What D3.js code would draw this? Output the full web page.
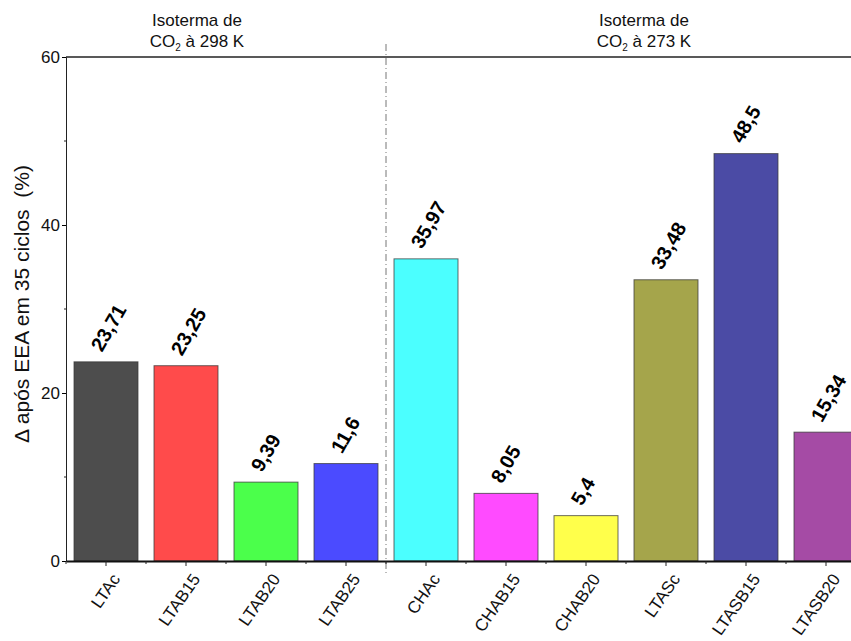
<!DOCTYPE html>
<html><head><meta charset="utf-8">
<script src="https://cdn.jsdelivr.net/npm/d3@7"></script>
<style>html,body{margin:0;padding:0;background:#fff}svg{display:block;font-family:"Liberation Sans",Arial,sans-serif}</style>
</head><body>
<svg id="c" width="851" height="641"></svg>
<script>
const categories = ["LTAc","LTAB15","LTAB20","LTAB25","CHAc","CHAB15","CHAB20","LTASc","LTASB15","LTASB20"];
const values = [23.71,23.25,9.39,11.6,35.97,8.05,5.4,33.48,48.5,15.34];
const valueLabels = ["23,71","23,25","9,39","11,6","35,97","8,05","5,4","33,48","48,5","15,34"];
const colors = ["#4d4d4d","#ff4b4b","#4bff4b","#4b4bff","#4bffff","#ff4bff","#ffff4b","#a5a54b","#4b4ba5","#a54ba5"];
const yMajor = [0,20,40,60];
const yMinor = [10,30,50];
const groupTitles = [["Isoterma de","298 K"],["Isoterma de","273 K"]];
const yTitle = "Δ após EEA em 35 ciclos\u00A0\u00A0(%)";

const svg = d3.select("#c");
const L = 66, R = 866, T = 57, B = 561;
const x = d3.scaleBand().domain(categories).range([L, R]).paddingInner(0.2).paddingOuter(0.1);
const y = d3.scaleLinear().domain([0, 60]).range([B, T]);

// bars
svg.append("g").selectAll("rect").data(categories).join("rect")
  .attr("x", d => x(d)).attr("width", x.bandwidth())
  .attr("y", (d,i) => y(values[i])).attr("height", (d,i) => y(0) - y(values[i]))
  .attr("fill", (d,i) => colors[i]).attr("stroke", "#3a3a3a").attr("stroke-width", 1).attr("stroke-opacity", 0.75);

// separator
const sepX = (x(categories[3]) + x.bandwidth() + x(categories[4])) / 2;
svg.append("line").attr("x1", sepX).attr("x2", sepX).attr("y1", 44).attr("y2", 574)
  .attr("stroke", "#777").attr("stroke-width", 1).attr("stroke-dasharray", "7,3,1,3");

// top line
svg.append("line").attr("x1", L).attr("x2", 851).attr("y1", T).attr("y2", T).attr("stroke", "#222").attr("stroke-width", 1.5);

// y axis
const ya = svg.append("g").attr("transform", `translate(${L},0)`)
  .call(d3.axisLeft(y).tickValues(yMajor).tickSize(4).tickPadding(2).tickFormat(d3.format("d")));
ya.select(".domain").attr("stroke", "#222");
ya.selectAll("text").attr("font-size", 17).attr("fill", "#111").attr("font-family", "Liberation Sans, Arial");
ya.append("g").selectAll("line").data(yMinor).join("line")
  .attr("x1", 0).attr("x2", -2).attr("y1", d => y(d)).attr("y2", d => y(d)).attr("stroke", "#222");

// x axis
const xa = svg.append("g").attr("transform", `translate(0,${B})`)
  .call(d3.axisBottom(x).tickSize(5).tickSizeOuter(0).tickFormat(""));
xa.select(".domain").attr("stroke", "#111").attr("stroke-width", 2);
xa.selectAll(".tick line").attr("stroke", "#222");
const boundaries = d3.range(0, categories.length + 1).map(i => L + i * x.step());
xa.append("g").selectAll("line").data(boundaries).join("line")
  .attr("x1", d => d).attr("x2", d => d).attr("y1", 0).attr("y2", 3).attr("stroke", "#222");

// x labels
svg.append("g").selectAll("text").data(categories).join("text")
  .attr("transform", d => `translate(${x(d) + x.bandwidth()/2 + 15},${B + 18}) rotate(-55)`)
  .attr("text-anchor", "end").attr("font-size", 17).attr("fill", "#111").text(d => d);

// value labels
svg.append("g").selectAll("text").data(categories).join("text")
  .attr("transform", (d,i) => `translate(${x(d) + x.bandwidth()/2 - 4},${y(values[i]) - 9}) rotate(-60)`)
  .attr("font-size", 20).attr("font-weight", "bold").attr("fill", "#000").text((d,i) => valueLabels[i]);

// y title
svg.append("text").attr("transform", `translate(29,${(T + B)/2 - 5}) rotate(-90)`)
  .attr("text-anchor", "middle").attr("font-size", 21).attr("fill", "#111").text(yTitle);

// group titles
const gx = [197, 644];
groupTitles.forEach((t, i) => {
  svg.append("text").attr("x", gx[i]).attr("y", 26).attr("text-anchor", "middle").attr("font-size", 17).attr("fill", "#111").text(t[0]);
  const tt = svg.append("text").attr("x", gx[i]).attr("y", 47).attr("text-anchor", "middle").attr("font-size", 17).attr("fill", "#111");
  tt.append("tspan").text("CO");
  tt.append("tspan").attr("font-size", 10).attr("dy", 4).text("2");
  tt.append("tspan").attr("dy", -4).text(" à " + t[1]);
});
</script>
</body></html>
